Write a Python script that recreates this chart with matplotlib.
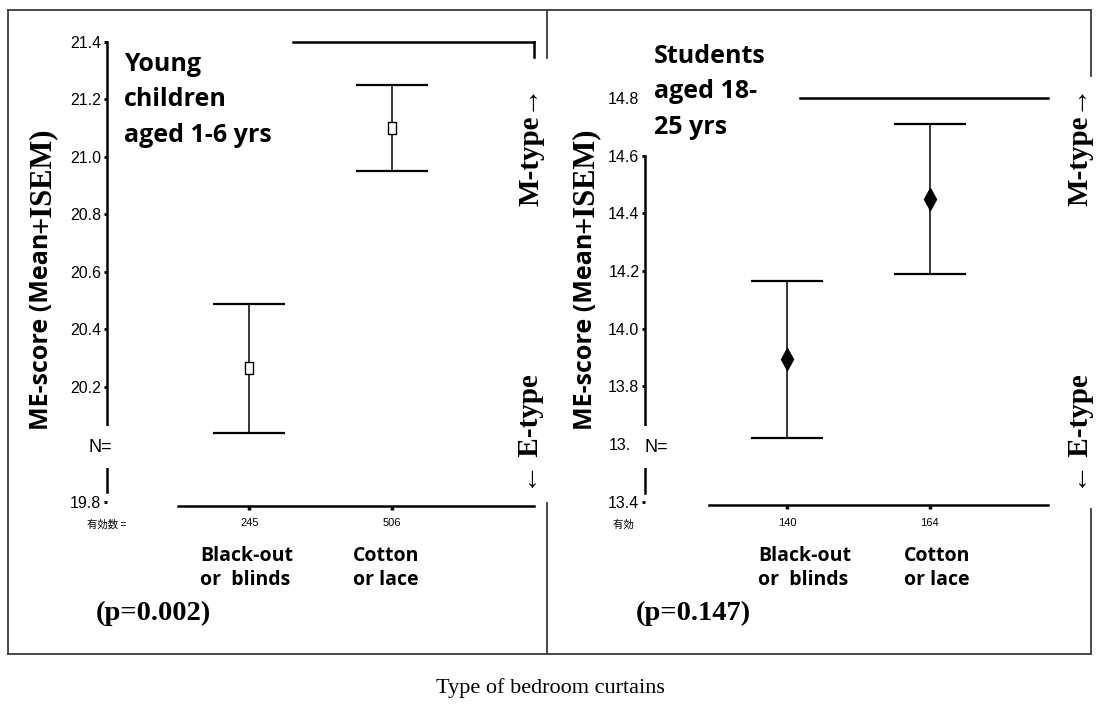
import matplotlib
matplotlib.use("Agg")
from matplotlib import pyplot as plt
from matplotlib.lines import Line2D
from matplotlib.patches import Rectangle
from matplotlib import transforms

# Data
categories = ["Black-out\nor  blinds", "Cotton\nor lace"]
x_pos = [1, 2]

young_n = [245, 506]
young_mean = [20.265, 21.10]
young_upper = [20.49, 21.25]
young_lower = [20.04, 20.95]
young_ticks = [19.8, 20.0, 20.2, 20.4, 20.6, 20.8, 21.0, 21.2, 21.4]

student_n = [140, 164]
student_mean = [13.895, 14.45]
student_upper = [14.165, 14.71]
student_lower = [13.62, 14.19]
student_ticks = [13.4, 13.6, 13.8, 14.0, 14.2, 14.4, 14.6, 14.8]

p_values = ["(p=0.002)", "(p=0.147)"]
titles = ["Young\nchildren\naged 1-6 yrs", "Students\naged 18-\n25 yrs"]

# Constants
W, H = 1100, 712
SANS_B = ["Open Sans", "DejaVu Sans"]
SERIF = ["Liberation Serif", "DejaVu Serif"]
NARROW = ["Liberation Sans Narrow", "Liberation Sans", "DejaVu Sans"]
CJK = ["Noto Sans CJK JP", "DejaVu Sans"]
FRAME = "#3a3a3a"
# narrow open rectangle used by the first chart
RECT_MARK = [(-0.3, -0.5), (0.3, -0.5), (0.3, 0.5), (-0.3, 0.5), (-0.3, -0.5)]

fig = plt.figure(figsize=(W / 100, H / 100), dpi=100)
fig.patch.set_facecolor("white")


def fx(x):
    return x / W


def fy(y):
    return 1 - y / H


def frame_line(x0, y0, x1, y1, lw=1.3, color=FRAME):
    fig.add_artist(Line2D([fx(x0), fx(x1)], [fy(y0), fy(y1)],
                          transform=fig.transFigure, color=color, lw=lw))


def white_box(x0, y0, x1, y1):
    fig.add_artist(Rectangle((fx(x0), fy(y1)), fx(x1) - fx(x0), fy(y0) - fy(y1),
                             transform=fig.transFigure, facecolor="white",
                             edgecolor="none", zorder=5))


def make_panel(left, right, top, bottom, ylim, xmax, ticks, n, mean, upper, lower,
               marker, ms, mfc, left_bounds, bottom_start, top_start, right_top,
               hidden_label=None):
    ax = fig.add_axes([fx(left), fy(bottom), fx(right) - fx(left), fy(top) - fy(bottom)])
    ax.set_xlim(0, xmax)
    ax.set_ylim(*ylim)
    yerr = [[m - lo for m, lo in zip(mean, lower)], [u - m for m, u in zip(mean, upper)]]
    ax.errorbar(x_pos, mean, yerr=yerr, fmt="none", ecolor="black", elinewidth=1.1,
                capsize=26, capthick=1.6, zorder=3)
    ax.plot(x_pos, mean, ls="none", marker=marker, ms=ms, mfc=mfc, mec="black",
            mew=1.0, zorder=4)
    ax.set_yticks(ticks)
    # the label under the "N=" patch is hidden in the reference
    labels = ["" if t == hidden_label else f"{t:.1f}" for t in ticks]
    ax.set_yticklabels(labels, family=NARROW, fontsize=11.5)
    ax.set_xticks(x_pos)
    ax.set_xticklabels([str(v) for v in n], family=NARROW, fontsize=8)
    ax.tick_params(axis="y", length=2.5, width=2, pad=1.5, direction="out")
    ax.tick_params(axis="x", length=3, width=2.5, pad=6, direction="out")
    for s in ax.spines.values():
        s.set_linewidth(1.8)
        s.set_color("black")
    ax.spines["left"].set_bounds(left_bounds[0], left_bounds[1])
    ax.spines["bottom"].set_bounds(bottom_start, xmax)
    ax.spines["top"].set_bounds(top_start, xmax)
    if right_top is None:
        ax.spines["right"].set_visible(False)
    else:
        ax.spines["right"].set_bounds(right_top, ylim[1])
    ax.patch.set_visible(False)
    return ax


# left panel: young children
ax1 = make_panel(107, 534, 42, 506, (19.786, 21.4), 3.0, young_ticks, young_n,
                 young_mean, young_upper, young_lower, RECT_MARK, 9, "white",
                 (19.835, 21.4), 0.5, 1.31, 21.348, hidden_label=20.0)
# right panel: students
ax2 = make_panel(645, 1048, 98, 505, (13.389, 14.8), 2.83, student_ticks, student_n,
                 student_mean, student_upper, student_lower, "d", 11, "black",
                 (13.43, 14.6), 0.45, 1.09, None)
ax2.yaxis.get_major_ticks()[-1].tick1line.set_visible(False)

# outer frames
frame_line(8, 10, 1091, 10)
frame_line(8, 10, 8, 654)
frame_line(8, 654, 1091, 654)
frame_line(547, 10, 547, 58)
frame_line(547, 503, 547, 654)
frame_line(1091, 10, 1091, 76)
frame_line(1091, 509, 1091, 654)

# white patches that hide parts of the pasted charts, with N= labels
white_box(75, 426, 118, 468)
white_box(631, 426, 700, 468)
white_box(634, 512, 700, 540)
fig.text(fx(88), fy(448), "N=", family=["Liberation Sans", "DejaVu Sans"],
         fontsize=13, ha="left", va="center", zorder=6)
fig.text(fx(645), fy(448), "N=", family=["Liberation Sans", "DejaVu Sans"],
         fontsize=13, ha="left", va="center", zorder=6)
fig.text(fx(87), fy(525), "有効数 =", family=CJK, fontsize=7.5, ha="left", va="center")
fig.text(fx(613), fy(525), "有効数 =", family=CJK, fontsize=7.5, ha="left", va="center",
         zorder=4)

for ax, ylab_x, title_xy, p_x, m_x, label_shift in [
        (ax1, 42, (124, 52), 96, 531, [-0.02, -0.04]),
        (ax2, 585, (654, 44), 636, 1080, [0.12, 0.05])]:
    i = 0 if ax is ax1 else 1
    # y label: sans part + serif part
    fig.text(fx(ylab_x), fy(233), "ME-score (Mean", family=SANS_B, weight="bold",
             fontsize=18, rotation=90, ha="center", va="top")
    fig.text(fx(ylab_x), fy(233), "+ISEM)", family=SERIF, weight="bold",
             fontsize=22, rotation=90, ha="center", va="bottom")
    # group title
    fig.text(fx(title_xy[0]), fy(title_xy[1]), titles[i], family=SANS_B,
             weight="bold", fontsize=18, ha="left", va="top", linespacing=1.55)
    # category names
    trans = transforms.blended_transform_factory(ax.transData, fig.transFigure)
    for xp, cat, sh in zip(x_pos, categories, label_shift):
        ax.text(xp + sh, fy(568), cat, transform=trans, family=SANS_B, weight="bold",
                fontsize=14, ha="center", va="center", multialignment="left",
                linespacing=1.3)
    # p value
    fig.text(fx(p_x), fy(613), p_values[i], family=SERIF, weight="bold",
             fontsize=20.5, ha="left", va="center")
    # M-type / E-type
    fig.text(fx(m_x), fy(146), "M-type→", family=SERIF, weight="bold",
             fontsize=21, rotation=90, ha="center", va="center")
    fig.text(fx(m_x), fy(434), "← E-type", family=SERIF, weight="bold",
             fontsize=21, rotation=90, ha="center", va="center")

fig.text(0.5, fy(688), "Type of bedroom curtains", family=SERIF, fontsize=16,
         ha="center", va="center")

fig.savefig("out.png", dpi=100)
